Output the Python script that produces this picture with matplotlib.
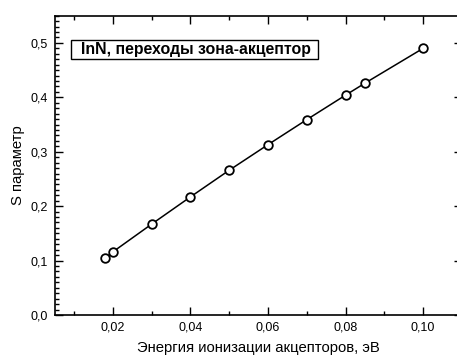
import matplotlib.pyplot as plt
from matplotlib.patches import Rectangle
from matplotlib.ticker import MultipleLocator, FuncFormatter

plt.rcParams['font.family'] = ['Liberation Sans', 'DejaVu Sans']

# энергия ионизации акцепторов (эВ) и S параметр
energy = [0.018, 0.020, 0.030, 0.040, 0.050, 0.060, 0.070, 0.080, 0.085, 0.100]
s_param = [0.104, 0.116, 0.167, 0.217, 0.266, 0.313, 0.359, 0.404, 0.426, 0.490]

fig = plt.figure(figsize=(4.57, 3.56), dpi=100)
ax = fig.add_axes([0.1197, 0.1152, 0.891, 0.8407])

ax.plot(energy, s_param, c="black", lw=1.1, marker="o", ms=6.2,
        mfc="white", mec="black", mew=1.3)

ax.set_xlim(0.005, 0.11)
ax.set_ylim(0.0, 0.55)

ax.xaxis.set_major_locator(MultipleLocator(0.02))
ax.xaxis.set_minor_locator(MultipleLocator(0.01))
ax.yaxis.set_major_locator(MultipleLocator(0.1))
ax.yaxis.set_minor_locator(MultipleLocator(0.01))

ax.xaxis.set_major_formatter(FuncFormatter(lambda v, p: f"{v:.2f}".replace(".", ",")))
ax.yaxis.set_major_formatter(FuncFormatter(lambda v, p: f"{v:.1f}".replace(".", ",")))

ax.tick_params(which="both", direction="in", top=True, right=True,
               labelsize=9, width=1, color="black")
ax.tick_params(which="major", length=5.5, pad=5)
ax.tick_params(which="minor", length=2.8)
for sp in ax.spines.values():
    sp.set_linewidth(1.2)

ax.set_xlabel("Энергия ионизации акцепторов, эВ", fontsize=10.7, labelpad=5)
ax.set_ylabel("S параметр", fontsize=10.7, labelpad=4)

# подпись в рамке
ax.add_patch(Rectangle((0.0092, 0.471), 0.0636, 0.0336, fc="white",
                       ec="black", lw=1, zorder=3))
ax.text(0.0118, 0.4885, "InN, переходы зона-акцептор", fontsize=11.4,
        fontweight="bold", va="center", ha="left", zorder=4)

fig.savefig("out.png", dpi=100)
